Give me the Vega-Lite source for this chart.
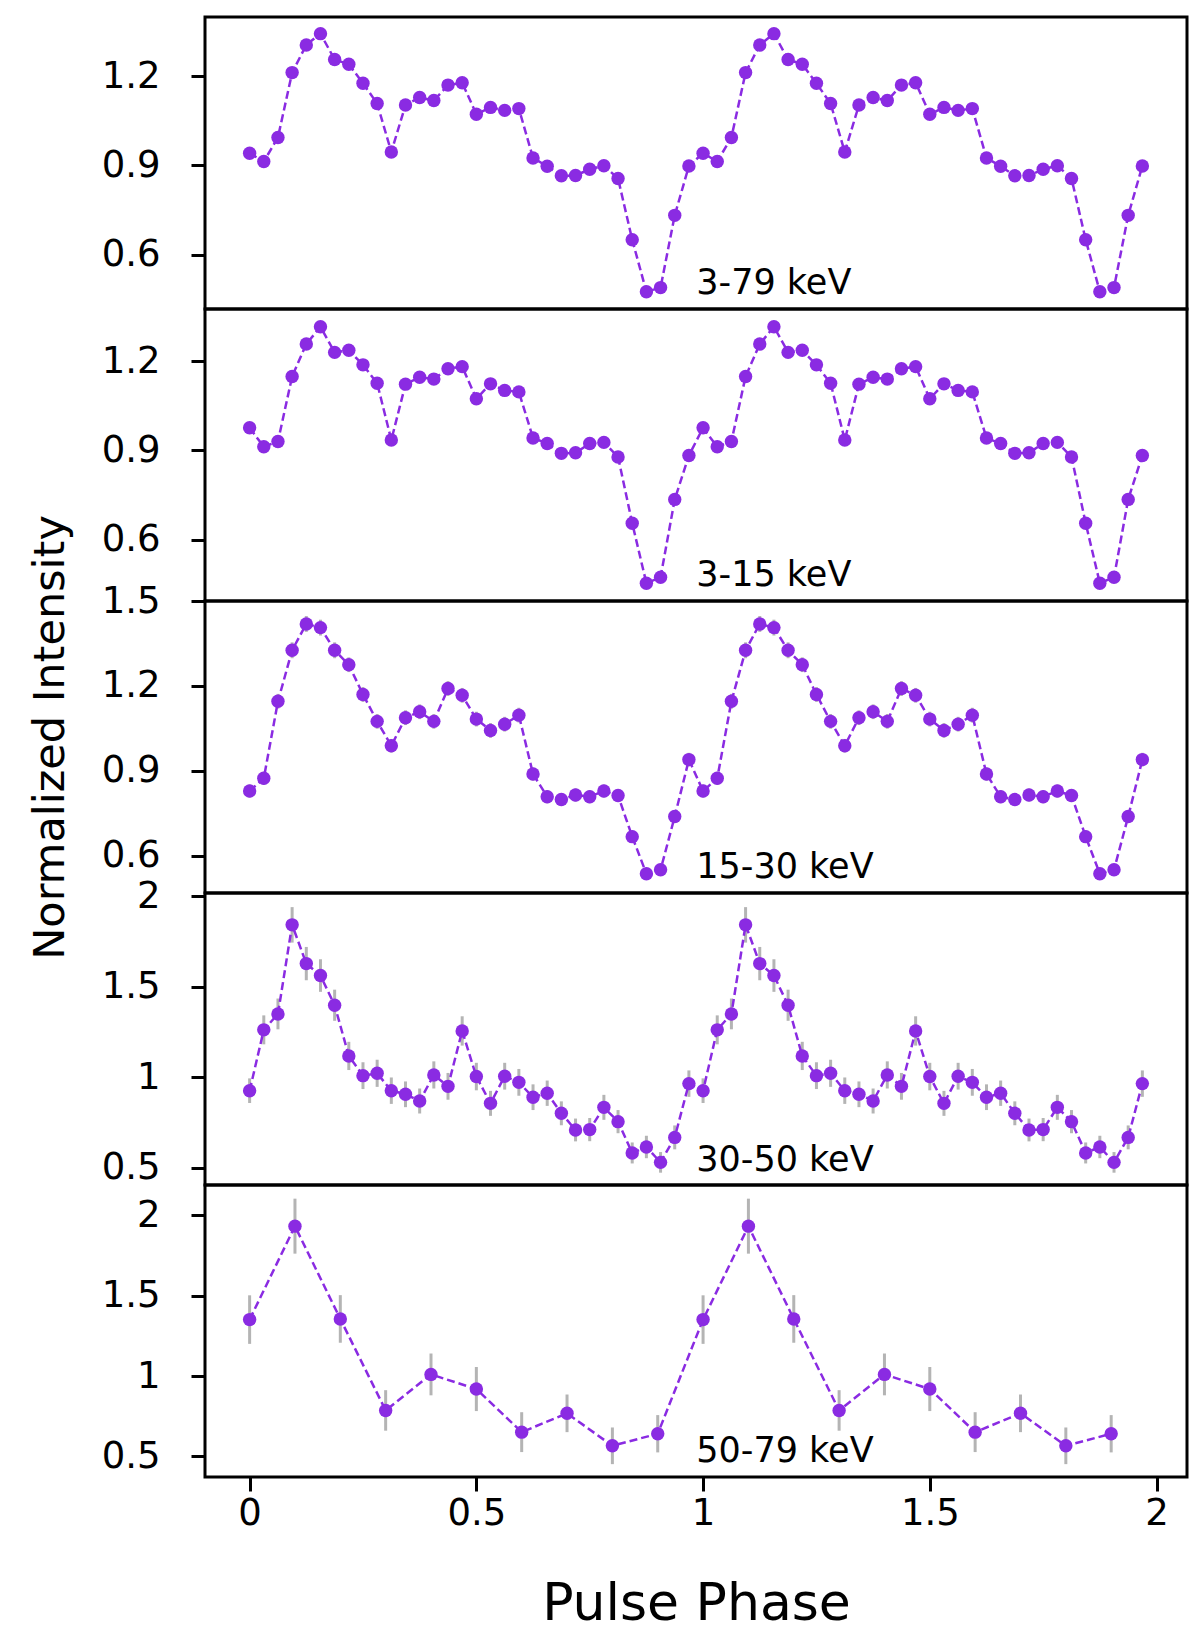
{
"$schema": "https://vega.github.io/schema/vega-lite/v6.json",
"bounds": "flush",
"spacing": 0,
"padding": {"left": 27, "top": 15, "right": 10, "bottom": 10},
"config": {
  "view": {"stroke": "black", "strokeWidth": 3},
  "font": "DejaVu Sans",
  "axis": {"grid": false, "domain": false, "ticks": true, "tickColor": "black", "tickWidth": 3, "tickSize": 14, "labelFont": "DejaVu Sans", "labelFontSize": 37, "labelColor": "black", "labelFlush": false, "labelOverlap": false, "titleFont": "DejaVu Sans", "titleFontWeight": "normal", "titleColor": "black"},
  "axisY": {"labelPadding": 31},
  "axisX": {"labelPadding": 4}
},
"datasets": {
"p1": [
{"phase":0,"rate":0.941,"err":0.008},{"phase":0.03125,"rate":0.913,"err":0.008},{"phase":0.0625,"rate":0.994,"err":0.008},{"phase":0.09375,"rate":1.212,"err":0.008},{"phase":0.125,"rate":1.305,"err":0.008},{"phase":0.15625,"rate":1.343,"err":0.008},{"phase":0.1875,"rate":1.256,"err":0.008},{"phase":0.21875,"rate":1.240,"err":0.008},{"phase":0.25,"rate":1.176,"err":0.008},{"phase":0.28125,"rate":1.108,"err":0.008},{"phase":0.3125,"rate":0.945,"err":0.008},{"phase":0.34375,"rate":1.103,"err":0.008},{"phase":0.375,"rate":1.128,"err":0.008},{"phase":0.40625,"rate":1.118,"err":0.008},{"phase":0.4375,"rate":1.170,"err":0.008},{"phase":0.46875,"rate":1.178,"err":0.008},{"phase":0.5,"rate":1.072,"err":0.008},{"phase":0.53125,"rate":1.095,"err":0.008},{"phase":0.5625,"rate":1.085,"err":0.008},{"phase":0.59375,"rate":1.091,"err":0.008},{"phase":0.625,"rate":0.925,"err":0.008},{"phase":0.65625,"rate":0.897,"err":0.008},{"phase":0.6875,"rate":0.865,"err":0.008},{"phase":0.71875,"rate":0.866,"err":0.008},{"phase":0.75,"rate":0.887,"err":0.008},{"phase":0.78125,"rate":0.899,"err":0.008},{"phase":0.8125,"rate":0.856,"err":0.008},{"phase":0.84375,"rate":0.650,"err":0.008},{"phase":0.875,"rate":0.475,"err":0.008},{"phase":0.90625,"rate":0.489,"err":0.008},{"phase":0.9375,"rate":0.732,"err":0.008},{"phase":0.96875,"rate":0.898,"err":0.008},
{"phase":1,"rate":0.941,"err":0.008},{"phase":1.03125,"rate":0.913,"err":0.008},{"phase":1.0625,"rate":0.994,"err":0.008},{"phase":1.09375,"rate":1.212,"err":0.008},{"phase":1.125,"rate":1.305,"err":0.008},{"phase":1.15625,"rate":1.343,"err":0.008},{"phase":1.1875,"rate":1.256,"err":0.008},{"phase":1.21875,"rate":1.240,"err":0.008},{"phase":1.25,"rate":1.176,"err":0.008},{"phase":1.28125,"rate":1.108,"err":0.008},{"phase":1.3125,"rate":0.945,"err":0.008},{"phase":1.34375,"rate":1.103,"err":0.008},{"phase":1.375,"rate":1.128,"err":0.008},{"phase":1.40625,"rate":1.118,"err":0.008},{"phase":1.4375,"rate":1.170,"err":0.008},{"phase":1.46875,"rate":1.178,"err":0.008},{"phase":1.5,"rate":1.072,"err":0.008},{"phase":1.53125,"rate":1.095,"err":0.008},{"phase":1.5625,"rate":1.085,"err":0.008},{"phase":1.59375,"rate":1.091,"err":0.008},{"phase":1.625,"rate":0.925,"err":0.008},{"phase":1.65625,"rate":0.897,"err":0.008},{"phase":1.6875,"rate":0.865,"err":0.008},{"phase":1.71875,"rate":0.866,"err":0.008},{"phase":1.75,"rate":0.887,"err":0.008},{"phase":1.78125,"rate":0.899,"err":0.008},{"phase":1.8125,"rate":0.856,"err":0.008},{"phase":1.84375,"rate":0.650,"err":0.008},{"phase":1.875,"rate":0.475,"err":0.008},{"phase":1.90625,"rate":0.489,"err":0.008},{"phase":1.9375,"rate":0.732,"err":0.008},{"phase":1.96875,"rate":0.898,"err":0.008}
],
"p2": [
{"phase":0,"rate":0.976,"err":0.008},{"phase":0.03125,"rate":0.912,"err":0.008},{"phase":0.0625,"rate":0.930,"err":0.008},{"phase":0.09375,"rate":1.149,"err":0.008},{"phase":0.125,"rate":1.258,"err":0.008},{"phase":0.15625,"rate":1.316,"err":0.008},{"phase":0.1875,"rate":1.230,"err":0.008},{"phase":0.21875,"rate":1.237,"err":0.008},{"phase":0.25,"rate":1.188,"err":0.008},{"phase":0.28125,"rate":1.126,"err":0.008},{"phase":0.3125,"rate":0.935,"err":0.008},{"phase":0.34375,"rate":1.123,"err":0.008},{"phase":0.375,"rate":1.146,"err":0.008},{"phase":0.40625,"rate":1.140,"err":0.008},{"phase":0.4375,"rate":1.175,"err":0.008},{"phase":0.46875,"rate":1.182,"err":0.008},{"phase":0.5,"rate":1.074,"err":0.008},{"phase":0.53125,"rate":1.124,"err":0.008},{"phase":0.5625,"rate":1.102,"err":0.008},{"phase":0.59375,"rate":1.097,"err":0.008},{"phase":0.625,"rate":0.942,"err":0.008},{"phase":0.65625,"rate":0.923,"err":0.008},{"phase":0.6875,"rate":0.890,"err":0.008},{"phase":0.71875,"rate":0.892,"err":0.008},{"phase":0.75,"rate":0.923,"err":0.008},{"phase":0.78125,"rate":0.927,"err":0.008},{"phase":0.8125,"rate":0.878,"err":0.008},{"phase":0.84375,"rate":0.655,"err":0.008},{"phase":0.875,"rate":0.453,"err":0.008},{"phase":0.90625,"rate":0.473,"err":0.008},{"phase":0.9375,"rate":0.735,"err":0.008},{"phase":0.96875,"rate":0.883,"err":0.008},
{"phase":1,"rate":0.976,"err":0.008},{"phase":1.03125,"rate":0.912,"err":0.008},{"phase":1.0625,"rate":0.930,"err":0.008},{"phase":1.09375,"rate":1.149,"err":0.008},{"phase":1.125,"rate":1.258,"err":0.008},{"phase":1.15625,"rate":1.316,"err":0.008},{"phase":1.1875,"rate":1.230,"err":0.008},{"phase":1.21875,"rate":1.237,"err":0.008},{"phase":1.25,"rate":1.188,"err":0.008},{"phase":1.28125,"rate":1.126,"err":0.008},{"phase":1.3125,"rate":0.935,"err":0.008},{"phase":1.34375,"rate":1.123,"err":0.008},{"phase":1.375,"rate":1.146,"err":0.008},{"phase":1.40625,"rate":1.140,"err":0.008},{"phase":1.4375,"rate":1.175,"err":0.008},{"phase":1.46875,"rate":1.182,"err":0.008},{"phase":1.5,"rate":1.074,"err":0.008},{"phase":1.53125,"rate":1.124,"err":0.008},{"phase":1.5625,"rate":1.102,"err":0.008},{"phase":1.59375,"rate":1.097,"err":0.008},{"phase":1.625,"rate":0.942,"err":0.008},{"phase":1.65625,"rate":0.923,"err":0.008},{"phase":1.6875,"rate":0.890,"err":0.008},{"phase":1.71875,"rate":0.892,"err":0.008},{"phase":1.75,"rate":0.923,"err":0.008},{"phase":1.78125,"rate":0.927,"err":0.008},{"phase":1.8125,"rate":0.878,"err":0.008},{"phase":1.84375,"rate":0.655,"err":0.008},{"phase":1.875,"rate":0.453,"err":0.008},{"phase":1.90625,"rate":0.473,"err":0.008},{"phase":1.9375,"rate":0.735,"err":0.008},{"phase":1.96875,"rate":0.883,"err":0.008}
],
"p3": [
{"phase":0,"rate":0.829,"err":0.023},{"phase":0.03125,"rate":0.874,"err":0.023},{"phase":0.0625,"rate":1.146,"err":0.026},{"phase":0.09375,"rate":1.326,"err":0.028},{"phase":0.125,"rate":1.419,"err":0.028},{"phase":0.15625,"rate":1.406,"err":0.028},{"phase":0.1875,"rate":1.326,"err":0.028},{"phase":0.21875,"rate":1.275,"err":0.026},{"phase":0.25,"rate":1.170,"err":0.026},{"phase":0.28125,"rate":1.075,"err":0.026},{"phase":0.3125,"rate":0.989,"err":0.024},{"phase":0.34375,"rate":1.088,"err":0.026},{"phase":0.375,"rate":1.109,"err":0.026},{"phase":0.40625,"rate":1.075,"err":0.026},{"phase":0.4375,"rate":1.191,"err":0.026},{"phase":0.46875,"rate":1.167,"err":0.026},{"phase":0.5,"rate":1.083,"err":0.026},{"phase":0.53125,"rate":1.043,"err":0.026},{"phase":0.5625,"rate":1.065,"err":0.026},{"phase":0.59375,"rate":1.097,"err":0.026},{"phase":0.625,"rate":0.889,"err":0.023},{"phase":0.65625,"rate":0.809,"err":0.023},{"phase":0.6875,"rate":0.799,"err":0.023},{"phase":0.71875,"rate":0.815,"err":0.023},{"phase":0.75,"rate":0.809,"err":0.023},{"phase":0.78125,"rate":0.829,"err":0.023},{"phase":0.8125,"rate":0.813,"err":0.023},{"phase":0.84375,"rate":0.668,"err":0.022},{"phase":0.875,"rate":0.537,"err":0.021},{"phase":0.90625,"rate":0.551,"err":0.021},{"phase":0.9375,"rate":0.739,"err":0.022},{"phase":0.96875,"rate":0.940,"err":0.024},
{"phase":1,"rate":0.829,"err":0.023},{"phase":1.03125,"rate":0.874,"err":0.023},{"phase":1.0625,"rate":1.146,"err":0.026},{"phase":1.09375,"rate":1.326,"err":0.028},{"phase":1.125,"rate":1.419,"err":0.028},{"phase":1.15625,"rate":1.406,"err":0.028},{"phase":1.1875,"rate":1.326,"err":0.028},{"phase":1.21875,"rate":1.275,"err":0.026},{"phase":1.25,"rate":1.170,"err":0.026},{"phase":1.28125,"rate":1.075,"err":0.026},{"phase":1.3125,"rate":0.989,"err":0.024},{"phase":1.34375,"rate":1.088,"err":0.026},{"phase":1.375,"rate":1.109,"err":0.026},{"phase":1.40625,"rate":1.075,"err":0.026},{"phase":1.4375,"rate":1.191,"err":0.026},{"phase":1.46875,"rate":1.167,"err":0.026},{"phase":1.5,"rate":1.083,"err":0.026},{"phase":1.53125,"rate":1.043,"err":0.026},{"phase":1.5625,"rate":1.065,"err":0.026},{"phase":1.59375,"rate":1.097,"err":0.026},{"phase":1.625,"rate":0.889,"err":0.023},{"phase":1.65625,"rate":0.809,"err":0.023},{"phase":1.6875,"rate":0.799,"err":0.023},{"phase":1.71875,"rate":0.815,"err":0.023},{"phase":1.75,"rate":0.809,"err":0.023},{"phase":1.78125,"rate":0.829,"err":0.023},{"phase":1.8125,"rate":0.813,"err":0.023},{"phase":1.84375,"rate":0.668,"err":0.022},{"phase":1.875,"rate":0.537,"err":0.021},{"phase":1.90625,"rate":0.551,"err":0.021},{"phase":1.9375,"rate":0.739,"err":0.022},{"phase":1.96875,"rate":0.940,"err":0.024}
],
"p4": [
{"phase":0,"rate":0.926,"err":0.068},{"phase":0.03125,"rate":1.262,"err":0.080},{"phase":0.0625,"rate":1.350,"err":0.085},{"phase":0.09375,"rate":1.842,"err":0.098},{"phase":0.125,"rate":1.628,"err":0.092},{"phase":0.15625,"rate":1.562,"err":0.090},{"phase":0.1875,"rate":1.398,"err":0.086},{"phase":0.21875,"rate":1.118,"err":0.078},{"phase":0.25,"rate":1.009,"err":0.074},{"phase":0.28125,"rate":1.022,"err":0.075},{"phase":0.3125,"rate":0.926,"err":0.073},{"phase":0.34375,"rate":0.906,"err":0.071},{"phase":0.375,"rate":0.869,"err":0.069},{"phase":0.40625,"rate":1.013,"err":0.075},{"phase":0.4375,"rate":0.950,"err":0.074},{"phase":0.46875,"rate":1.256,"err":0.081},{"phase":0.5,"rate":1.004,"err":0.076},{"phase":0.53125,"rate":0.856,"err":0.069},{"phase":0.5625,"rate":1.006,"err":0.074},{"phase":0.59375,"rate":0.972,"err":0.074},{"phase":0.625,"rate":0.890,"err":0.071},{"phase":0.65625,"rate":0.912,"err":0.070},{"phase":0.6875,"rate":0.801,"err":0.066},{"phase":0.71875,"rate":0.709,"err":0.063},{"phase":0.75,"rate":0.711,"err":0.064},{"phase":0.78125,"rate":0.834,"err":0.069},{"phase":0.8125,"rate":0.755,"err":0.064},{"phase":0.84375,"rate":0.582,"err":0.058},{"phase":0.875,"rate":0.615,"err":0.062},{"phase":0.90625,"rate":0.530,"err":0.057},{"phase":0.9375,"rate":0.668,"err":0.066},{"phase":0.96875,"rate":0.965,"err":0.073},
{"phase":1,"rate":0.926,"err":0.068},{"phase":1.03125,"rate":1.262,"err":0.080},{"phase":1.0625,"rate":1.350,"err":0.085},{"phase":1.09375,"rate":1.842,"err":0.098},{"phase":1.125,"rate":1.628,"err":0.092},{"phase":1.15625,"rate":1.562,"err":0.090},{"phase":1.1875,"rate":1.398,"err":0.086},{"phase":1.21875,"rate":1.118,"err":0.078},{"phase":1.25,"rate":1.009,"err":0.074},{"phase":1.28125,"rate":1.022,"err":0.075},{"phase":1.3125,"rate":0.926,"err":0.073},{"phase":1.34375,"rate":0.906,"err":0.071},{"phase":1.375,"rate":0.869,"err":0.069},{"phase":1.40625,"rate":1.013,"err":0.075},{"phase":1.4375,"rate":0.950,"err":0.074},{"phase":1.46875,"rate":1.256,"err":0.081},{"phase":1.5,"rate":1.004,"err":0.076},{"phase":1.53125,"rate":0.856,"err":0.069},{"phase":1.5625,"rate":1.006,"err":0.074},{"phase":1.59375,"rate":0.972,"err":0.074},{"phase":1.625,"rate":0.890,"err":0.071},{"phase":1.65625,"rate":0.912,"err":0.070},{"phase":1.6875,"rate":0.801,"err":0.066},{"phase":1.71875,"rate":0.709,"err":0.063},{"phase":1.75,"rate":0.711,"err":0.064},{"phase":1.78125,"rate":0.834,"err":0.069},{"phase":1.8125,"rate":0.755,"err":0.064},{"phase":1.84375,"rate":0.582,"err":0.058},{"phase":1.875,"rate":0.615,"err":0.062},{"phase":1.90625,"rate":0.530,"err":0.057},{"phase":1.9375,"rate":0.668,"err":0.066},{"phase":1.96875,"rate":0.965,"err":0.073}
],
"p5": [
{"phase":0,"rate":1.351,"err":0.151},{"phase":0.1,"rate":1.932,"err":0.171},{"phase":0.2,"rate":1.355,"err":0.148},{"phase":0.3,"rate":0.786,"err":0.126},{"phase":0.4,"rate":1.010,"err":0.130},{"phase":0.5,"rate":0.919,"err":0.137},{"phase":0.6,"rate":0.651,"err":0.124},{"phase":0.7,"rate":0.768,"err":0.117},{"phase":0.8,"rate":0.566,"err":0.114},{"phase":0.9,"rate":0.641,"err":0.116},
{"phase":1,"rate":1.351,"err":0.151},{"phase":1.1,"rate":1.932,"err":0.171},{"phase":1.2,"rate":1.355,"err":0.148},{"phase":1.3,"rate":0.786,"err":0.126},{"phase":1.4,"rate":1.010,"err":0.130},{"phase":1.5,"rate":0.919,"err":0.137},{"phase":1.6,"rate":0.651,"err":0.124},{"phase":1.7,"rate":0.768,"err":0.117},{"phase":1.8,"rate":0.566,"err":0.114},{"phase":1.9,"rate":0.641,"err":0.116}
],
"lab1": [{"label": "3-79 keV"}],
"lab2": [{"label": "3-15 keV"}],
"lab3": [{"label": "15-30 keV"}],
"lab4": [{"label": "30-50 keV"}],
"lab5": [{"label": "50-79 keV"}]
},
"vconcat": [
{
 "width": 982, "height": 292,
 "layer": [
  {"data": {"name": "p1"}, "mark": {"type": "errorbar", "color": "#b4b4b4", "thickness": 3},
   "encoding": {"x": {"field": "phase", "type": "quantitative", "scale": {"domain": [-0.0984, 2.0672], "nice": false, "zero": false}, "axis": null},
     "y": {"field": "rate", "type": "quantitative", "scale": {"domain": [0.417, 1.399], "nice": false, "zero": false}, "axis": {"values": [0.6, 0.9, 1.2], "format": ".1f", "title": null}},
     "yError": {"field": "err"}}},
  {"data": {"name": "p1"}, "mark": {"type": "line", "color": "#8a2be2", "strokeDash": [8, 4], "strokeWidth": 2.5},
   "encoding": {"x": {"field": "phase", "type": "quantitative"}, "y": {"field": "rate", "type": "quantitative"}}},
  {"data": {"name": "p1"}, "mark": {"type": "point", "filled": true, "color": "#8a2be2", "size": 180, "opacity": 1},
   "encoding": {"x": {"field": "phase", "type": "quantitative"}, "y": {"field": "rate", "type": "quantitative"}}},
  {"data": {"name": "lab1"}, "mark": {"type": "text", "align": "left", "baseline": "alphabetic", "fontSize": 35, "font": "DejaVu Sans", "color": "black"},
   "encoding": {"x": {"datum": 0.985, "type": "quantitative"}, "y": {"datum": 0.466, "type": "quantitative"}, "text": {"field": "label", "type": "nominal"}}}
 ]
},
{
 "width": 982, "height": 292,
 "layer": [
  {"data": {"name": "p2"}, "mark": {"type": "errorbar", "color": "#b4b4b4", "thickness": 3},
   "encoding": {"x": {"field": "phase", "type": "quantitative", "scale": {"domain": [-0.0984, 2.0672], "nice": false, "zero": false}, "axis": null},
     "y": {"field": "rate", "type": "quantitative", "scale": {"domain": [0.393, 1.376], "nice": false, "zero": false}, "axis": {"values": [0.6, 0.9, 1.2], "format": ".1f", "title": null}},
     "yError": {"field": "err"}}},
  {"data": {"name": "p2"}, "mark": {"type": "line", "color": "#8a2be2", "strokeDash": [8, 4], "strokeWidth": 2.5},
   "encoding": {"x": {"field": "phase", "type": "quantitative"}, "y": {"field": "rate", "type": "quantitative"}}},
  {"data": {"name": "p2"}, "mark": {"type": "point", "filled": true, "color": "#8a2be2", "size": 180, "opacity": 1},
   "encoding": {"x": {"field": "phase", "type": "quantitative"}, "y": {"field": "rate", "type": "quantitative"}}},
  {"data": {"name": "lab2"}, "mark": {"type": "text", "align": "left", "baseline": "alphabetic", "fontSize": 35, "font": "DejaVu Sans", "color": "black"},
   "encoding": {"x": {"datum": 0.985, "type": "quantitative"}, "y": {"datum": 0.442, "type": "quantitative"}, "text": {"field": "label", "type": "nominal"}}}
 ]
},
{
 "width": 982, "height": 292,
 "layer": [
  {"data": {"name": "p3"}, "mark": {"type": "errorbar", "color": "#b4b4b4", "thickness": 3},
   "encoding": {"x": {"field": "phase", "type": "quantitative", "scale": {"domain": [-0.0984, 2.0672], "nice": false, "zero": false}, "axis": null},
     "y": {"field": "rate", "type": "quantitative", "scale": {"domain": [0.469, 1.5], "nice": false, "zero": false}, "axis": {"values": [0.6, 0.9, 1.2, 1.5], "format": ".1f", "title": "Normalized Intensity", "titleFontSize": 43, "titlePadding": 29, "titleY": 136}},
     "yError": {"field": "err"}}},
  {"data": {"name": "p3"}, "mark": {"type": "line", "color": "#8a2be2", "strokeDash": [8, 4], "strokeWidth": 2.5},
   "encoding": {"x": {"field": "phase", "type": "quantitative"}, "y": {"field": "rate", "type": "quantitative"}}},
  {"data": {"name": "p3"}, "mark": {"type": "point", "filled": true, "color": "#8a2be2", "size": 180, "opacity": 1},
   "encoding": {"x": {"field": "phase", "type": "quantitative"}, "y": {"field": "rate", "type": "quantitative"}}},
  {"data": {"name": "lab3"}, "mark": {"type": "text", "align": "left", "baseline": "alphabetic", "fontSize": 35, "font": "DejaVu Sans", "color": "black"},
   "encoding": {"x": {"datum": 0.985, "type": "quantitative"}, "y": {"datum": 0.521, "type": "quantitative"}, "text": {"field": "label", "type": "nominal"}}}
 ]
},
{
 "width": 982, "height": 292,
 "layer": [
  {"data": {"name": "p4"}, "mark": {"type": "errorbar", "color": "#b4b4b4", "thickness": 3},
   "encoding": {"x": {"field": "phase", "type": "quantitative", "scale": {"domain": [-0.0984, 2.0672], "nice": false, "zero": false}, "axis": null},
     "y": {"field": "rate", "type": "quantitative", "scale": {"domain": [0.405, 2.018], "nice": false, "zero": false}, "axis": {"values": [0.5, 1, 1.5, 2], "format": "~g", "title": null}},
     "yError": {"field": "err"}}},
  {"data": {"name": "p4"}, "mark": {"type": "line", "color": "#8a2be2", "strokeDash": [8, 4], "strokeWidth": 2.5},
   "encoding": {"x": {"field": "phase", "type": "quantitative"}, "y": {"field": "rate", "type": "quantitative"}}},
  {"data": {"name": "p4"}, "mark": {"type": "point", "filled": true, "color": "#8a2be2", "size": 180, "opacity": 1},
   "encoding": {"x": {"field": "phase", "type": "quantitative"}, "y": {"field": "rate", "type": "quantitative"}}},
  {"data": {"name": "lab4"}, "mark": {"type": "text", "align": "left", "baseline": "alphabetic", "fontSize": 35, "font": "DejaVu Sans", "color": "black"},
   "encoding": {"x": {"datum": 0.985, "type": "quantitative"}, "y": {"datum": 0.483, "type": "quantitative"}, "text": {"field": "label", "type": "nominal"}}}
 ]
},
{
 "width": 982, "height": 292,
 "layer": [
  {"data": {"name": "p5"}, "mark": {"type": "errorbar", "color": "#b4b4b4", "thickness": 3},
   "encoding": {"x": {"field": "phase", "type": "quantitative", "scale": {"domain": [-0.0984, 2.0672], "nice": false, "zero": false}, "axis": {"values": [0, 0.5, 1, 1.5, 2], "format": "~g", "title": "Pulse Phase", "titleFontSize": 52, "titlePadding": 47}},
     "y": {"field": "rate", "type": "quantitative", "scale": {"domain": [0.372, 2.188], "nice": false, "zero": false}, "axis": {"values": [0.5, 1, 1.5, 2], "format": "~g", "title": null}},
     "yError": {"field": "err"}}},
  {"data": {"name": "p5"}, "mark": {"type": "line", "color": "#8a2be2", "strokeDash": [8, 4], "strokeWidth": 2.5},
   "encoding": {"x": {"field": "phase", "type": "quantitative"}, "y": {"field": "rate", "type": "quantitative"}}},
  {"data": {"name": "p5"}, "mark": {"type": "point", "filled": true, "color": "#8a2be2", "size": 180, "opacity": 1},
   "encoding": {"x": {"field": "phase", "type": "quantitative"}, "y": {"field": "rate", "type": "quantitative"}}},
  {"data": {"name": "lab5"}, "mark": {"type": "text", "align": "left", "baseline": "alphabetic", "fontSize": 35, "font": "DejaVu Sans", "color": "black"},
   "encoding": {"x": {"datum": 0.985, "type": "quantitative"}, "y": {"datum": 0.463, "type": "quantitative"}, "text": {"field": "label", "type": "nominal"}}}
 ]
}
]
}
